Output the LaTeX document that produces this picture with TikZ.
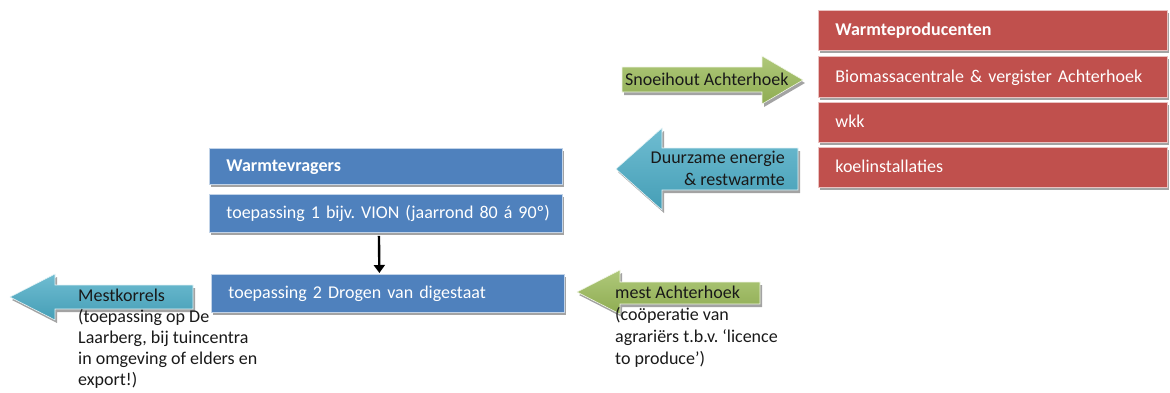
\documentclass[tikz,border=0pt]{standalone}
\usepackage{fontspec}
\setmainfont{Carlito}
\usetikzlibrary{shadows,arrows.meta}
\definecolor{prodred}{HTML}{C0504D}
\definecolor{userblue}{HTML}{4F81BD}
\definecolor{leafgreen}{HTML}{9BBB59}
\definecolor{aquablue}{HTML}{4BACC6}
\definecolor{shadowgray}{HTML}{A3A3A3}
\tikzset{
  softshadow/.style={drop shadow={shadow xshift=2pt, shadow yshift=-3pt,
      fill=shadowgray, opacity=1}},
  bartext/.style={font=\fontsize{18}{22}\selectfont\frenchspacing, text=white,
      text height=14pt, text depth=3pt, align=left, inner ysep=0pt},
  prodbox/.style={bartext, fill=prodred, draw=prodred!35!white, line width=0.8pt,
      softshadow, anchor=north west, minimum width=349pt, text width=315pt,
      inner xsep=17pt},
  userbox/.style={bartext, fill=userblue, draw=userblue!35!white, line width=0.8pt,
      softshadow, anchor=north west, minimum width=353pt, text width=319pt,
      inner xsep=17pt},
  greenblock/.style={top color=leafgreen!80!white, bottom color=leafgreen!92!black,
      draw=white!85!leafgreen, line width=0.6pt, softshadow},
  aquablock/.style={top color=aquablue!80!white, bottom color=aquablue!92!black,
      draw=white!85!aquablue, line width=0.6pt, softshadow},
  note/.style={font=\fontsize{18}{22}\selectfont\frenchspacing, text=black!90,
      inner sep=0pt, anchor=base west, align=left},
  flow/.style={line width=2.4pt, -{Triangle[width=11pt,length=8pt]}}
}
\begin{document}
\begin{tikzpicture}[x=1pt, y=-1pt]
\useasboundingbox (0,0) rectangle (1170,392);

% heat producers
\node[prodbox, minimum height=40pt] (prodhead) at (818,10) {\textbf{Warmteproducenten}};
\node[prodbox, minimum height=41pt] (biomass) at (818,56) {\mbox{Biomassacentrale \& vergister Achterhoek}};
\node[prodbox, minimum height=40pt] (wkk) at (818,102) {wkk};
\node[prodbox, minimum height=40pt] (cooling) at (818,147) {koelinstallaties};

% heat consumers
\node[userbox, minimum height=36pt] (userhead) at (209,148) {\textbf{Warmtevragers}};
\node[userbox, minimum height=38pt] (useone) at (209,194) {\mbox{toepassing 1 bijv. VION (jaarrond 80 á 90º)}};
\node[userbox, minimum height=38pt] (usetwo) at (211,274) {toepassing 2 Drogen van digestaat};

\draw[flow, shorten <=3pt, shorten >=1pt] ([xshift=-7pt]useone.south) -- ([xshift=-8.5pt]usetwo.north);

% block arrows
\path[greenblock] (622,67) -- (762,67) -- (762,56) -- (803,80) -- (762,104)
  -- (762,92) -- (622,92) -- cycle;
\node[note] (prune) at (625,85) {Snoeihout Achterhoek};

\path[aquablock] (798,148) -- (662,148) -- (662,128) -- (616,169) -- (662,210)
  -- (662,190) -- (798,190) -- cycle;
\node[note, anchor=base east, align=right] (energy) at (785,185)
  {Duurzame energie\\\& restwarmte};

\path[greenblock] (760,282) -- (620,282) -- (620,270) -- (577,292) -- (620,314)
  -- (620,304) -- (760,304) -- cycle;
\node[note, anchor=north west] (manure) at (615,286)
  {mest Achterhoek\\(coöperatie van\\agrariërs t.b.v. ‘licence\\to produce’)};

\path[aquablock] (193,285) -- (55,285) -- (55,274) -- (10,297) -- (55,320)
  -- (55,309) -- (193,309) -- cycle;
\node[note, anchor=north west, font=\fontsize{18}{21}\selectfont\frenchspacing] (pellets) at (78,289)
  {Mestkorrels\\(toepassing op De\\Laarberg, bij tuincentra\\in omgeving of elders en\\export!)};
\end{tikzpicture}
\end{document}
